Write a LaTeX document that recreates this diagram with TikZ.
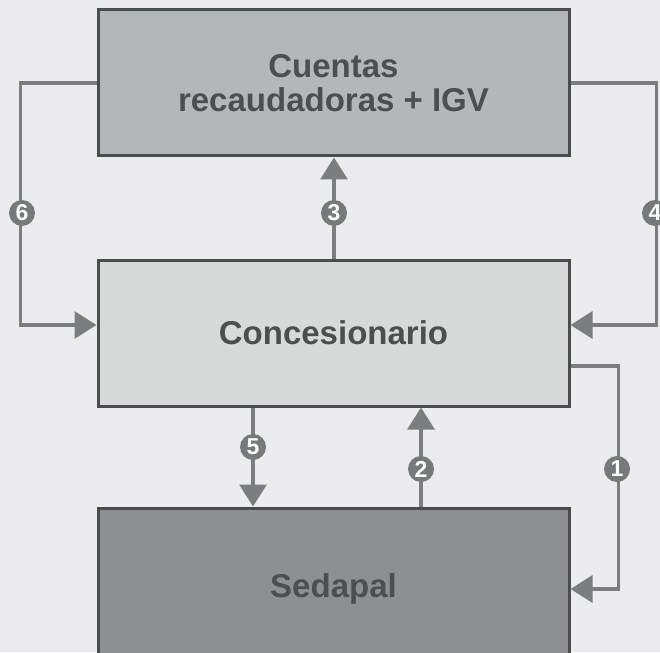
\documentclass[tikz,border=0pt]{standalone}
\usepackage{fontspec}
\setmainfont{Liberation Sans}
\usetikzlibrary{arrows.meta,calc}
\definecolor{bg}{HTML}{ECECEE}
\definecolor{topc}{HTML}{B4B7B8}
\definecolor{midc}{HTML}{D8DADA}
\definecolor{botc}{HTML}{8E8F90}
\definecolor{edge}{HTML}{4B4C4D}
\definecolor{txt}{HTML}{4D4E50}
\definecolor{conc}{HTML}{7B7E7F}
\definecolor{numc}{HTML}{767A7B}
\begin{document}
\begin{tikzpicture}[x=1pt,y=-1pt,
  box/.style={draw=edge,line width=3pt,rectangle,minimum width=471pt,text=txt,align=center,
    font=\bfseries\fontsize{33}{34}\selectfont},
  conn/.style={draw=conc,line width=3.2pt},
  arr/.style={conn,-{Triangle[width=27pt,length=22pt]}},
  num/.style={circle,fill=numc,text=white,inner sep=0pt,minimum size=26pt,
    font=\bfseries\fontsize{23}{23}\selectfont}]
\fill[bg] (0,0) rectangle (660,652);
\useasboundingbox (0,0) rectangle (660,652);
\node[box,fill=topc,minimum height=146pt] (top) at (333.5,83) {Cuentas\\recaudadoras + IGV};
\node[box,fill=midc,minimum height=146pt] (mid) at (333.5,333) {Concesionario};
\node[box,fill=botc,minimum height=162pt] (bot) at (333.5,589) {Sedapal};
% 6
\draw[arr] (top.west) -- ++(-76,0) coordinate (c6) |- ($(mid.west)+(0,-8)$);
% 4
\draw[arr] (top.east) -- ++(86,0) coordinate (c4) |- ($(mid.east)+(0,-8)$);
% 3
\draw[arr] ($(mid.north)+(0.5,0)$) -- ($(top.south)+(0.5,0)$);
% 5
\draw[arr] ($(mid.south)+(-80.5,0)$) -- ($(bot.north)+(-80.5,0)$);
% 2
\draw[arr] ($(bot.north)+(87.5,0)$) -- ($(mid.south)+(87.5,0)$);
% 1
\draw[arr] ($(mid.east)+(0,33)$) -- ++(48,0) coordinate (c1) |- (bot.east);
\node[num] (n6) at (22,213) {6};
\node[num] (n4) at (655,213) {4};
\node[num] (n3) at (334,213) {3};
\node[num] (n5) at (253,447) {5};
\node[num] (n2) at (421,469) {2};
\node[num] (n1) at (617,469) {1};
\end{tikzpicture}
\end{document}
